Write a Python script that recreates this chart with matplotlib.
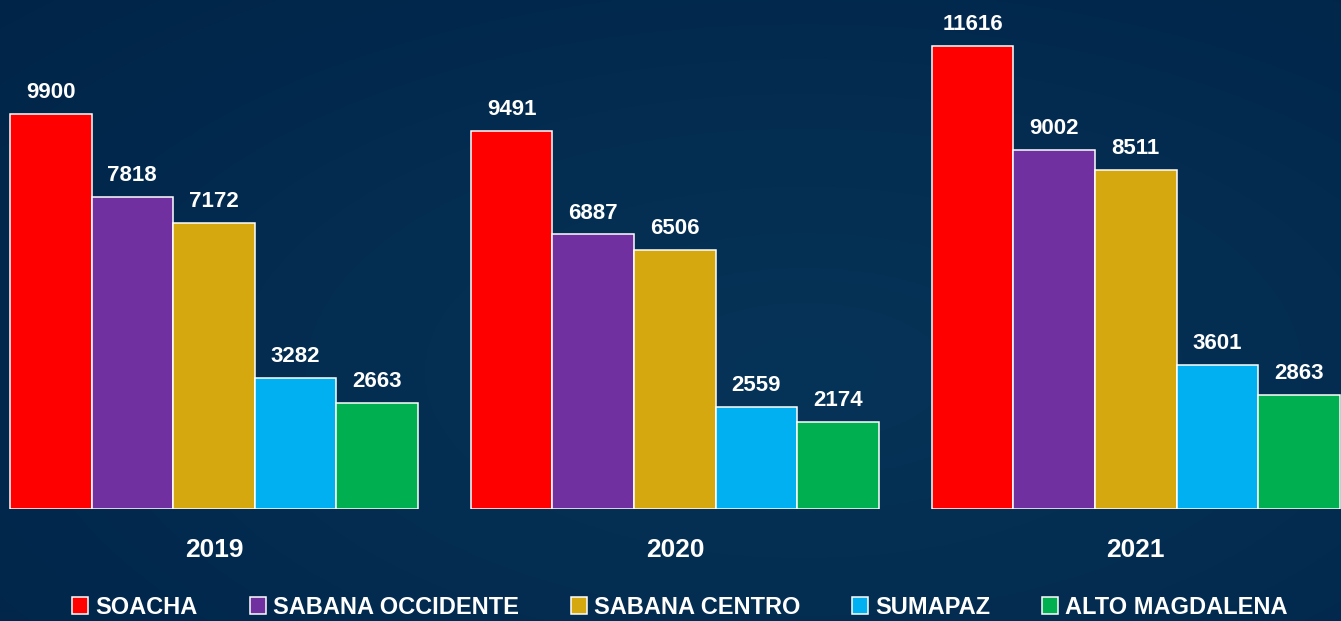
import numpy as np
import matplotlib
matplotlib.use('Agg')
import matplotlib.pyplot as plt

years = ['2019', '2020', '2021']
regiones = ['SOACHA', 'SABANA OCCIDENTE', 'SABANA CENTRO', 'SUMAPAZ', 'ALTO MAGDALENA']
valores = {
    'SOACHA': [9900, 9491, 11616],
    'SABANA OCCIDENTE': [7818, 6887, 9002],
    'SABANA CENTRO': [7172, 6506, 8511],
    'SUMAPAZ': [3282, 2559, 3601],
    'ALTO MAGDALENA': [2663, 2174, 2863],
}
colores = ['#FF0000', '#7030A0', '#D6A80F', '#00B0F0', '#00B050']

plt.rcParams['font.family'] = ['Liberation Sans', 'DejaVu Sans']
plt.rcParams['font.weight'] = 'bold'

fig = plt.figure(figsize=(13.41, 6.21), dpi=100)

# fondo con degradado radial azul oscuro
bg = fig.add_axes([0, 0, 1, 1])
yy, xx = np.mgrid[0:1:300j, 0:1:600j]
r = np.sqrt(((xx - 0.6) / 0.85) ** 2 + ((yy - 0.4) / 0.9) ** 2)
r = np.clip(r, 0, 1)
c0 = np.array([6, 52, 88]) / 255.0
c1 = np.array([0, 36, 72]) / 255.0
img = c0[None, None, :] * (1 - r[..., None]) + c1[None, None, :] * r[..., None]
bg.imshow(img, aspect='auto', extent=[0, 1, 0, 1], origin='lower')
bg.axis('off')

ax = fig.add_axes([0, 112 / 621, 1, 509 / 621])
ax.patch.set_alpha(0)

x = np.arange(len(years))
w = 0.177
handles = []
for i, reg in enumerate(regiones):
    pos = x + (i - 2) * w
    b = ax.bar(pos, valores[reg], width=w, color=colores[i],
               edgecolor='white', linewidth=1.1, label=reg)
    handles.append(b)
    for px, v in zip(pos, valores[reg]):
        ax.annotate(str(v), (px, v), xytext=(0, 11.5), textcoords='offset points',
                    ha='center', va='baseline', color='white',
                    fontsize=16, fontweight='bold')

ax.set_xlim(-0.464, 2.445)
ax.set_ylim(0, 12770)
ax.set_yticks([])
ax.set_xticks(x)
ax.set_xticklabels(years, fontsize=19, fontweight='bold', color='white')
ax.tick_params(axis='x', length=0, pad=34.6)
for lbl in ax.get_xticklabels():
    lbl.set_va('baseline')
for s in ax.spines.values():
    s.set_visible(False)

fig.legend(handles=handles, labels=regiones, loc='center',
           bbox_to_anchor=(680 / 1341, 14 / 621), ncol=5, frameon=False,
           prop={'size': 17, 'weight': 'bold'}, labelcolor='white',
           handlelength=0.68, handleheight=0.7, handletextpad=0.3,
           columnspacing=2.2, borderpad=0, borderaxespad=0)

fig.savefig('out.png', dpi=100)
